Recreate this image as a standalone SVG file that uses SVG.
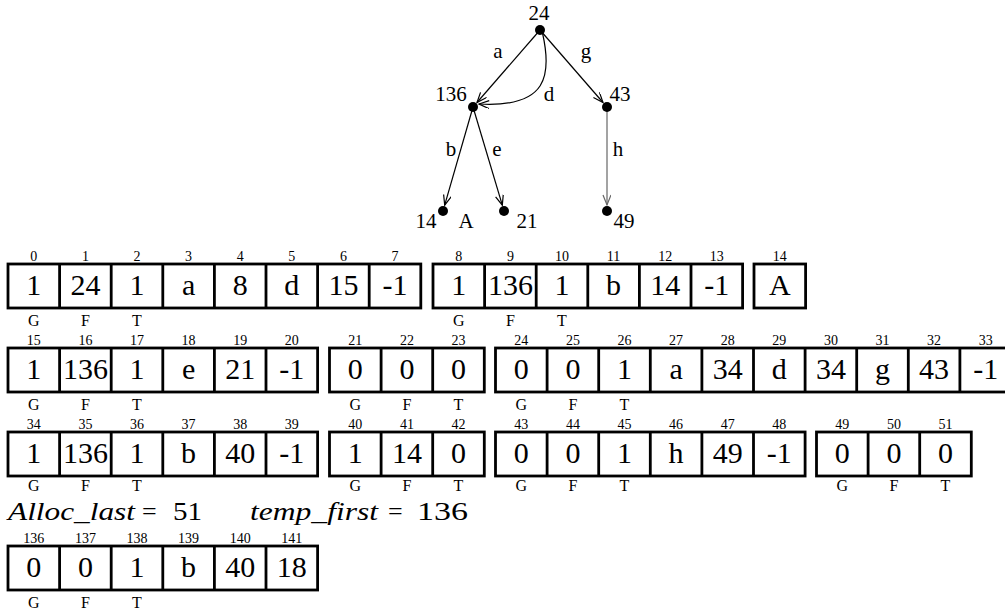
<svg xmlns="http://www.w3.org/2000/svg" width="1005" height="612" viewBox="0 0 1005 612" font-family="'Liberation Serif', 'DejaVu Serif', serif">
<style>
text{font-family:'Liberation Serif','DejaVu Serif',serif;fill:#000}
.t{font-size:21px;text-anchor:middle}
.v{font-size:30px;text-anchor:middle}
.i{font-size:14px;text-anchor:middle}
.l{font-size:16px;text-anchor:middle}
.m{font-size:26px}
.it{font-style:italic}
.box{fill:none;stroke:#000;stroke-width:2.8}
.e{fill:none;stroke:#000;stroke-width:1.2}
.dot{fill:#000}
</style>
<defs>
<marker id="arr" markerWidth="13" markerHeight="10" refX="11" refY="4" orient="auto" markerUnits="userSpaceOnUse">
<path d="M1,0 L11,4 L1,8" fill="none" stroke="#000" stroke-width="1.2"/>
</marker>
<marker id="arrg" markerWidth="13" markerHeight="10" refX="11" refY="4" orient="auto" markerUnits="userSpaceOnUse">
<path d="M1,0 L11,4 L1,8" fill="none" stroke="#666" stroke-width="1.2"/>
</marker>
</defs>

<g id="connectors">
<line class="e" x1="540" y1="30" x2="477" y2="102.5" marker-end="url(#arr)"/>
<line class="e" x1="540" y1="30" x2="603" y2="102.5" marker-end="url(#arr)"/>
<path class="e" d="M542.5,33 C552,75 548,108 479,104" marker-end="url(#arr)"/>
<line class="e" x1="473" y1="107" x2="444.7" y2="205.2" marker-end="url(#arr)"/>
<line class="e" x1="473" y1="107" x2="502.3" y2="205.2" marker-end="url(#arr)"/>
<line x1="607" y1="107" x2="607" y2="205" stroke="#666" stroke-width="1.2" marker-end="url(#arrg)"/>
<text class="t" x="498" y="58">a</text>
<text class="t" x="586" y="58">g</text>
<text class="t" x="549" y="101">d</text>
<text class="t" x="451" y="156">b</text>
<text class="t" x="497" y="156">e</text>
<text class="t" x="618" y="156">h</text>
</g>

<g id="n24"><circle class="dot" cx="540" cy="30" r="5"/><text class="t" x="539" y="20">24</text></g>
<g id="n136"><circle class="dot" cx="473" cy="107" r="5"/><text class="t" x="451" y="101">136</text></g>
<g id="n43"><circle class="dot" cx="607" cy="107" r="5"/><text class="t" x="620" y="101">43</text></g>
<g id="n14"><circle class="dot" cx="443" cy="211" r="5"/><text class="t" x="426" y="228">14</text><text class="t" x="466" y="228">A</text></g>
<g id="n21"><circle class="dot" cx="504" cy="211" r="5"/><text class="t" x="527" y="228">21</text></g>
<g id="n49"><circle class="dot" cx="607" cy="211" r="5"/><text class="t" x="624" y="228">49</text></g>

<!-- Row 1 -->
<g id="arr0">
<rect class="box" x="8" y="264" width="412.8" height="44"/>
<path class="box" d="M59.6,264V308M111.2,264V308M162.8,264V308M214.4,264V308M266,264V308M317.6,264V308M369.2,264V308"/>
<text class="i" x="33.8" y="261">0</text><text class="i" x="85.4" y="261">1</text><text class="i" x="137" y="261">2</text><text class="i" x="188.6" y="261">3</text><text class="i" x="240.2" y="261">4</text><text class="i" x="291.8" y="261">5</text><text class="i" x="343.4" y="261">6</text><text class="i" x="395" y="261">7</text>
<text class="v" x="33.8" y="295">1</text><text class="v" x="85.4" y="295">24</text><text class="v" x="137" y="295">1</text><text class="v" x="188.6" y="295">a</text><text class="v" x="240.2" y="295">8</text><text class="v" x="291.8" y="295">d</text><text class="v" x="343.4" y="295">15</text><text class="v" x="395" y="295">-1</text>
<text class="l" x="33.8" y="326">G</text><text class="l" x="85.4" y="326">F</text><text class="l" x="137" y="326">T</text>
</g>
<g id="arr8">
<rect class="box" x="433" y="264" width="309.6" height="44"/>
<path class="box" d="M484.6,264V308M536.2,264V308M587.8,264V308M639.4,264V308M691,264V308"/>
<text class="i" x="458.8" y="261">8</text><text class="i" x="510.4" y="261">9</text><text class="i" x="562" y="261">10</text><text class="i" x="613.6" y="261">11</text><text class="i" x="665.2" y="261">12</text><text class="i" x="716.8" y="261">13</text>
<text class="v" x="458.8" y="295">1</text><text class="v" x="510.4" y="295">136</text><text class="v" x="562" y="295">1</text><text class="v" x="613.6" y="295">b</text><text class="v" x="665.2" y="295">14</text><text class="v" x="716.8" y="295">-1</text>
<text class="l" x="458.8" y="326">G</text><text class="l" x="510.4" y="326">F</text><text class="l" x="562" y="326">T</text>
</g>
<g id="arr14">
<rect class="box" x="754" y="264" width="51.6" height="44"/>
<text class="i" x="779.8" y="261">14</text>
<text class="v" x="779.8" y="295">A</text>
</g>

<!-- Row 2 -->
<g id="arr15">
<rect class="box" x="8" y="348" width="309.6" height="44"/>
<path class="box" d="M59.6,348V392M111.2,348V392M162.8,348V392M214.4,348V392M266,348V392"/>
<text class="i" x="33.8" y="345">15</text><text class="i" x="85.4" y="345">16</text><text class="i" x="137" y="345">17</text><text class="i" x="188.6" y="345">18</text><text class="i" x="240.2" y="345">19</text><text class="i" x="291.8" y="345">20</text>
<text class="v" x="33.8" y="379">1</text><text class="v" x="85.4" y="379">136</text><text class="v" x="137" y="379">1</text><text class="v" x="188.6" y="379">e</text><text class="v" x="240.2" y="379">21</text><text class="v" x="291.8" y="379">-1</text>
<text class="l" x="33.8" y="410">G</text><text class="l" x="85.4" y="410">F</text><text class="l" x="137" y="410">T</text>
</g>
<g id="arr21">
<rect class="box" x="329.5" y="348" width="154.8" height="44"/>
<path class="box" d="M381.1,348V392M432.7,348V392"/>
<text class="i" x="355.3" y="345">21</text><text class="i" x="406.9" y="345">22</text><text class="i" x="458.5" y="345">23</text>
<text class="v" x="355.3" y="379">0</text><text class="v" x="406.9" y="379">0</text><text class="v" x="458.5" y="379">0</text>
<text class="l" x="355.3" y="410">G</text><text class="l" x="406.9" y="410">F</text><text class="l" x="458.5" y="410">T</text>
</g>
<g id="arr24">
<rect class="box" x="495.5" y="348" width="516" height="44"/>
<path class="box" d="M547.1,348V392M598.7,348V392M650.3,348V392M701.9,348V392M753.5,348V392M805.1,348V392M856.7,348V392M908.3,348V392M959.9,348V392"/>
<text class="i" x="521.3" y="345">24</text><text class="i" x="572.9" y="345">25</text><text class="i" x="624.5" y="345">26</text><text class="i" x="676.1" y="345">27</text><text class="i" x="727.7" y="345">28</text><text class="i" x="779.3" y="345">29</text><text class="i" x="830.9" y="345">30</text><text class="i" x="882.5" y="345">31</text><text class="i" x="934.1" y="345">32</text><text class="i" x="985.7" y="345">33</text>
<text class="v" x="521.3" y="379">0</text><text class="v" x="572.9" y="379">0</text><text class="v" x="624.5" y="379">1</text><text class="v" x="676.1" y="379">a</text><text class="v" x="727.7" y="379">34</text><text class="v" x="779.3" y="379">d</text><text class="v" x="830.9" y="379">34</text><text class="v" x="882.5" y="379">g</text><text class="v" x="934.1" y="379">43</text><text class="v" x="985.7" y="379">-1</text>
<text class="l" x="521.3" y="410">G</text><text class="l" x="572.9" y="410">F</text><text class="l" x="624.5" y="410">T</text>
</g>

<!-- Row 3 -->
<g id="arr34">
<rect class="box" x="8" y="432" width="309.6" height="44"/>
<path class="box" d="M59.6,432V476M111.2,432V476M162.8,432V476M214.4,432V476M266,432V476"/>
<text class="i" x="33.8" y="429">34</text><text class="i" x="85.4" y="429">35</text><text class="i" x="137" y="429">36</text><text class="i" x="188.6" y="429">37</text><text class="i" x="240.2" y="429">38</text><text class="i" x="291.8" y="429">39</text>
<text class="v" x="33.8" y="463">1</text><text class="v" x="85.4" y="463">136</text><text class="v" x="137" y="463">1</text><text class="v" x="188.6" y="463">b</text><text class="v" x="240.2" y="463">40</text><text class="v" x="291.8" y="463">-1</text>
<text class="l" x="33.8" y="491">G</text><text class="l" x="85.4" y="491">F</text><text class="l" x="137" y="491">T</text>
</g>
<g id="arr40">
<rect class="box" x="329.5" y="432" width="154.8" height="44"/>
<path class="box" d="M381.1,432V476M432.7,432V476"/>
<text class="i" x="355.3" y="429">40</text><text class="i" x="406.9" y="429">41</text><text class="i" x="458.5" y="429">42</text>
<text class="v" x="355.3" y="463">1</text><text class="v" x="406.9" y="463">14</text><text class="v" x="458.5" y="463">0</text>
<text class="l" x="355.3" y="491">G</text><text class="l" x="406.9" y="491">F</text><text class="l" x="458.5" y="491">T</text>
</g>
<g id="arr43">
<rect class="box" x="495.5" y="432" width="309.6" height="44"/>
<path class="box" d="M547.1,432V476M598.7,432V476M650.3,432V476M701.9,432V476M753.5,432V476"/>
<text class="i" x="521.3" y="429">43</text><text class="i" x="572.9" y="429">44</text><text class="i" x="624.5" y="429">45</text><text class="i" x="676.1" y="429">46</text><text class="i" x="727.7" y="429">47</text><text class="i" x="779.3" y="429">48</text>
<text class="v" x="521.3" y="463">0</text><text class="v" x="572.9" y="463">0</text><text class="v" x="624.5" y="463">1</text><text class="v" x="676.1" y="463">h</text><text class="v" x="727.7" y="463">49</text><text class="v" x="779.3" y="463">-1</text>
<text class="l" x="521.3" y="491">G</text><text class="l" x="572.9" y="491">F</text><text class="l" x="624.5" y="491">T</text>
</g>
<g id="arr49">
<rect class="box" x="816.5" y="432" width="154.8" height="44"/>
<path class="box" d="M868.1,432V476M919.7,432V476"/>
<text class="i" x="842.3" y="429">49</text><text class="i" x="893.9" y="429">50</text><text class="i" x="945.5" y="429">51</text>
<text class="v" x="842.3" y="463">0</text><text class="v" x="893.9" y="463">0</text><text class="v" x="945.5" y="463">0</text>
<text class="l" x="842.3" y="491">G</text><text class="l" x="893.9" y="491">F</text><text class="l" x="945.5" y="491">T</text>
</g>

<!-- Alloc line -->
<g id="vars">
<text class="m it" x="8" y="520" textLength="127" lengthAdjust="spacingAndGlyphs">Alloc_last</text>
<text class="m" x="142" y="520">=</text>
<text class="m" x="173" y="520" textLength="29" lengthAdjust="spacingAndGlyphs">51</text>
<text class="m it" x="250" y="520" textLength="128" lengthAdjust="spacingAndGlyphs">temp_first</text>
<text class="m" x="388" y="520">=</text>
<text class="m" x="417" y="520" textLength="51" lengthAdjust="spacingAndGlyphs">136</text>
</g>

<!-- Row 4 -->
<g id="arr136">
<rect class="box" x="8" y="546" width="309.6" height="44"/>
<path class="box" d="M59.6,546V590M111.2,546V590M162.8,546V590M214.4,546V590M266,546V590"/>
<text class="i" x="33.8" y="543">136</text><text class="i" x="85.4" y="543">137</text><text class="i" x="137" y="543">138</text><text class="i" x="188.6" y="543">139</text><text class="i" x="240.2" y="543">140</text><text class="i" x="291.8" y="543">141</text>
<text class="v" x="33.8" y="577">0</text><text class="v" x="85.4" y="577">0</text><text class="v" x="137" y="577">1</text><text class="v" x="188.6" y="577">b</text><text class="v" x="240.2" y="577">40</text><text class="v" x="291.8" y="577">18</text>
<text class="l" x="33.8" y="608">G</text><text class="l" x="85.4" y="608">F</text><text class="l" x="137" y="608">T</text>
</g>
</svg>
